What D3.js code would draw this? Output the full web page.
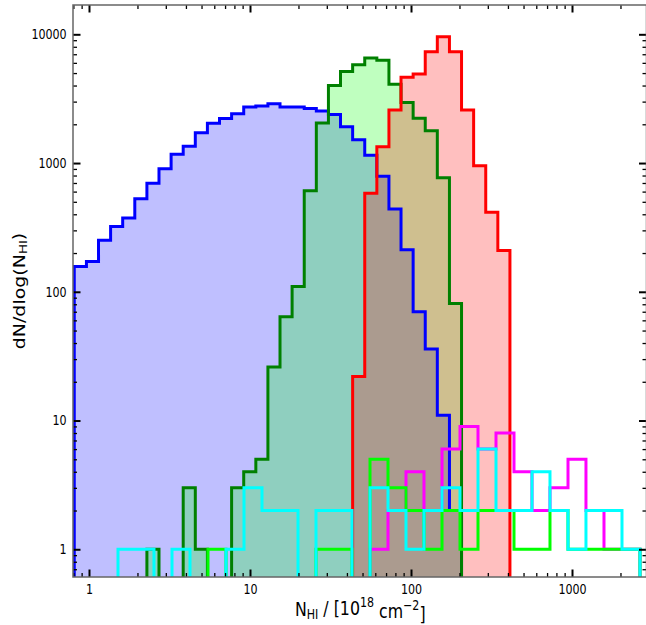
<!DOCTYPE html>
<html>
<head>
<meta charset="utf-8">
<script src="https://cdn.jsdelivr.net/npm/d3@7"></script>
<style>
  body { margin: 0; background: #fff; }
  svg { display: block; }
</style>
</head>
<body>
<div id="main_plot"></div>
<script>
// bin edges (N_HI in 1e18 cm^-2)
var fineEdges = [0.810, 0.964, 1.146, 1.362, 1.619, 1.925, 2.289, 2.721, 3.236, 3.847,
                 4.574, 5.438, 6.466, 7.687, 9.140, 10.87, 12.92, 15.36, 18.26, 21.72,
                 25.82, 30.70, 36.50, 43.40, 51.60, 61.35, 72.94, 86.70, 103.1, 122.6,
                 145.7, 173.3, 206.0, 244.9, 291.2, 346.2, 411.6];
var coarseEdges = [1.514, 1.958, 2.533, 3.278, 4.240, 5.484, 7.095, 9.178, 11.87, 15.36,
                   19.87, 25.70, 33.25, 43.01, 55.64, 71.97, 93.09, 120.4, 155.8, 201.5,
                   260.7, 337.2, 436.2, 564.3, 729.9, 944.4, 1221, 1580, 2044, 2644];

// counts per bin
var blueCounts = [157, 172, 251, 322, 374, 529, 697, 902, 1170, 1351, 1717, 2040, 2220, 2410,
                  2720, 2780, 2890, 2720, 2720, 2650, 2540, 2385, 1910, 1515, 1150, 789,
                  440, 212, 70, 36, 11, 2];
var greenCounts = [0, 0, 0, 0, 0, 0, 1, 0, 0, 3, 1, 0, 0, 3, 4, 5, 26, 64, 110, 610,
                   2050, 4000, 5150, 5800, 6550, 6300, 4100, 2950, 2230, 1780, 770, 81];
var redCounts = [22, 582, 1340, 2580, 4640, 4920, 7330, 9580, 7330, 2580, 953, 414, 209];
var redFirstBin = 23;
var limeCounts = [0, 0, 0, 0, 0, 1, 0, 0, 0, 0, 0, 1, 1, 0, 5, 3, 2, 1, 2, 1, 2, 2, 1, 1, 2, 1, 1, 1, 1];
var magentaCounts = [0, 0, 0, 0, 0, 0, 0, 0, 0, 0, 0, 0, 0, 0, 1, 2, 4, 2, 6, 9, 6, 8, 4, 2, 3, 5, 2, 1, 1];
var cyanCounts = [1, 1, 0, 1, 0, 0, 1, 3, 2, 2, 0, 2, 2, 0, 3, 2, 1, 2, 3, 2, 6, 2, 2, 4, 2, 1, 2, 2, 1];

// axis ticks
var xMajorTicks = [1, 10, 100, 1000];
var yMajorTicks = [1, 10, 100, 1000, 10000];

// set the dimensions and margins of the graph
var margin = {top: 5, right: -0.5, bottom: 48, left: 73},
    width = 646 - margin.left - margin.right,
    height = 625 - margin.top - margin.bottom;

var squeeze = 0.81;   // the picture is narrower than it is tall

var svg = d3.select("div#main_plot")
  .append("svg")
    .attr("width", 646)
    .attr("height", 625)
    .style("font-family", "'DejaVu Sans', sans-serif")
  .append("g")
    .attr("transform", "translate(" + margin.left + "," + margin.top + ")");

var x = d3.scaleLog()
  .domain([0.7955, 2902])
  .range([0, width]);

var y = d3.scaleLog()
  .domain([0.609, 16890])
  .range([height, 0]);

// zero bins go well under the bottom of the axis
var floorVal = 0.1;

svg.append("clipPath")
    .attr("id", "plot_clip")
  .append("rect")
    .attr("width", width)
    .attr("height", height);

function stepPoints(edges, counts) {
  var pts = [[edges[0], floorVal]];
  counts.forEach(function(c, i) {
    var v = c > 0 ? c : floorVal;
    pts.push([edges[i], v]);
    pts.push([edges[i + 1], v]);
  });
  pts.push([edges[counts.length], floorVal]);
  return pts;
}

var line = d3.line()
  .x(function(d) { return x(d[0]); })
  .y(function(d) { return y(d[1]); });

var series = [
  {edges: fineEdges.slice(0, 33), counts: blueCounts, stroke: "#0000ff", fill: "#0000ff"},
  {edges: fineEdges.slice(0, 33), counts: greenCounts, stroke: "#008000", fill: "#00ff00"},
  {edges: fineEdges.slice(redFirstBin), counts: redCounts, stroke: "#ff0000", fill: "#ff0000"},
  {edges: coarseEdges, counts: magentaCounts, stroke: "#ff00ff", fill: null},
  {edges: coarseEdges, counts: limeCounts, stroke: "#00ff00", fill: null},
  {edges: coarseEdges, counts: cyanCounts, stroke: "#00ffff", fill: null}
];

var plot = svg.append("g").attr("clip-path", "url(#plot_clip)");

// filled areas first
series.filter(function(s) { return s.fill; }).forEach(function(s) {
  plot.append("path")
    .datum(stepPoints(s.edges, s.counts))
    .attr("fill", s.fill)
    .attr("fill-opacity", 0.25)
    .attr("stroke", "none")
    .attr("d", line);
});

// then the outlines
series.forEach(function(s) {
  plot.append("path")
    .datum(stepPoints(s.edges, s.counts))
    .attr("fill", "none")
    .attr("stroke", s.stroke)
    .attr("stroke-width", 3)
    .attr("stroke-linejoin", "miter")
    .attr("d", line);
});

// ticks
var xMinorTicks = x.ticks().filter(function(t) { return xMajorTicks.indexOf(t) < 0; });
var yMinorTicks = y.ticks().filter(function(t) { return yMajorTicks.indexOf(t) < 0; });

var majorLen = 7.5, minorLen = 4;

function styleAxis(g, w) {
  g.select(".domain").remove();
  g.selectAll(".tick line").attr("stroke", "#000").attr("stroke-width", w);
}

// bottom
svg.append("g")
    .attr("transform", "translate(0," + height + ")")
    .call(d3.axisBottom(x).tickValues(xMinorTicks).tickSize(-minorLen).tickFormat(""))
    .call(styleAxis, 1.3);
var xAxis = svg.append("g")
    .attr("transform", "translate(0," + height + ")")
    .call(d3.axisBottom(x).tickValues(xMajorTicks).tickSize(-majorLen).tickPadding(7.3)
      .tickFormat(d3.format("d")))
    .call(styleAxis, 2);
// top
svg.append("g")
    .call(d3.axisTop(x).tickValues(xMinorTicks).tickSize(-minorLen).tickFormat(""))
    .call(styleAxis, 1.3);
svg.append("g")
    .call(d3.axisTop(x).tickValues(xMajorTicks).tickSize(-majorLen).tickFormat(""))
    .call(styleAxis, 2);
// left
svg.append("g")
    .call(d3.axisLeft(y).tickValues(yMinorTicks).tickSize(-minorLen).tickFormat(""))
    .call(styleAxis, 1.3);
var yAxis = svg.append("g")
    .call(d3.axisLeft(y).tickValues(yMajorTicks).tickSize(-majorLen).tickPadding(7.8)
      .tickFormat(d3.format("d")))
    .call(styleAxis, 2);
// right
svg.append("g")
    .attr("transform", "translate(" + width + ",0)")
    .call(d3.axisRight(y).tickValues(yMinorTicks).tickSize(-minorLen).tickFormat(""))
    .call(styleAxis, 1.3);
svg.append("g")
    .attr("transform", "translate(" + width + ",0)")
    .call(d3.axisRight(y).tickValues(yMajorTicks).tickSize(-majorLen).tickFormat(""))
    .call(styleAxis, 2);

[xAxis, yAxis].forEach(function(a) {
  a.selectAll(".tick text")
    .attr("fill", "#000")
    .attr("font-size", 13.7)
    .attr("font-family", "'DejaVu Sans', sans-serif")
    .attr("transform", "scale(" + squeeze + ",1)");
});

// frame
svg.append("rect")
    .attr("width", width)
    .attr("height", height)
    .attr("fill", "none")
    .attr("stroke", "#666")
    .attr("stroke-width", 1.5);

// axis labels
var xl = svg.append("text")
    .attr("transform", "translate(" + (width / 2 + 0.5) + "," + (height + 39) + ") scale(" + squeeze + ",1)")
    .attr("text-anchor", "middle")
    .attr("font-size", 19.5)
    .attr("fill", "#000");
xl.append("tspan").text("N");
xl.append("tspan").attr("font-size", "70%").attr("dy", "0.22em").text("HI");
xl.append("tspan").attr("dy", "-0.22em").text(" / [10");
xl.append("tspan").attr("font-size", "70%").attr("dy", "-0.55em").text("18");
xl.append("tspan").attr("dy", "0.55em").text(" cm");
xl.append("tspan").attr("font-size", "70%").attr("dy", "-0.55em").text("\u22122");
xl.append("tspan").attr("dy", "0.55em").text("]");

var yl = svg.append("text")
    .attr("transform", "translate(" + (25 - margin.left) + "," + (height / 2) + ") scale(" + squeeze + ",1) rotate(-90)")
    .attr("text-anchor", "middle")
    .attr("font-size", 19)
    .attr("fill", "#000");
yl.append("tspan").text("dN/dlog(N");
yl.append("tspan").attr("font-size", "70%").attr("dy", "0.22em").text("HI");
yl.append("tspan").attr("dy", "-0.22em").text(")");
</script>
</body>
</html>
